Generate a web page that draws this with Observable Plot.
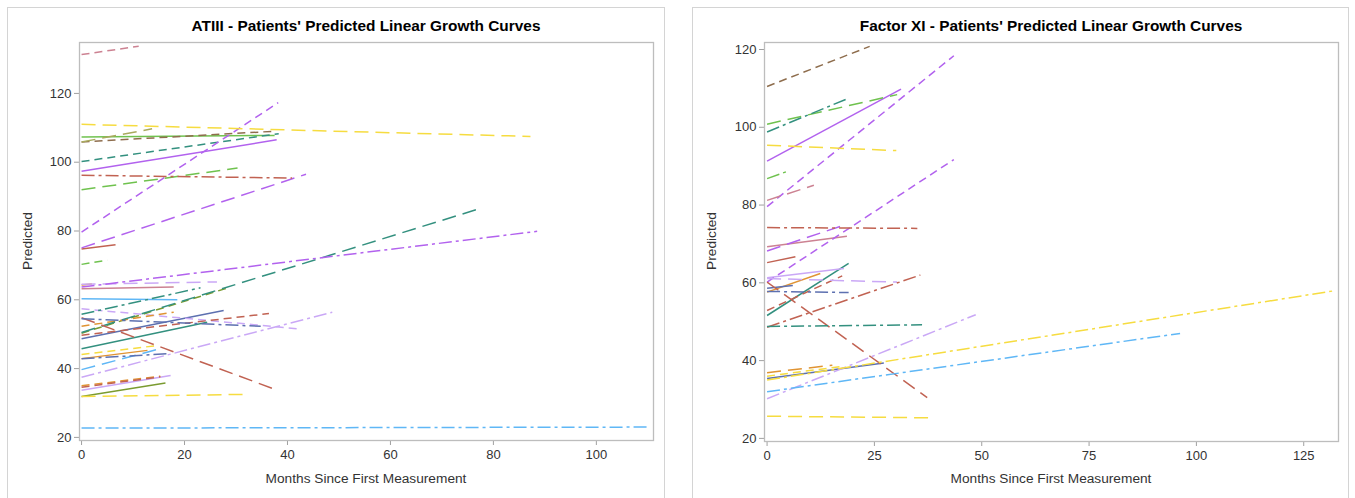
<!DOCTYPE html>
<html><head><meta charset="utf-8">
<script src="https://cdn.jsdelivr.net/npm/d3@7"></script>
<script src="https://cdn.jsdelivr.net/npm/@observablehq/plot@0.6"></script>
<style>
body{margin:0;background:#fff;font-family:"Liberation Sans",Arial,sans-serif;}
#page{position:relative;width:1355px;height:498px;overflow:hidden;}
.panel{position:absolute;top:7px;height:540px;border:1px solid #d4d4d4;box-sizing:border-box;}
.title{position:absolute;top:17px;font-weight:bold;font-size:15.4px;color:#000;white-space:nowrap;transform:translateX(-50%);}
.xlab{position:absolute;top:471px;font-size:13.7px;color:#333;transform:translateX(-50%);white-space:nowrap}
.ylab{position:absolute;font-size:13.7px;color:#333;transform:translate(-50%,-50%) rotate(-90deg);white-space:nowrap}
.chart{position:absolute;top:0}
</style></head>
<body><div id="page"></div>
<script>
// ---------- DATA: ATIII panel (each patient: line from month 0 to last month) ----------
const atiiiIds    = d3.range(1, 40).map(i => "A" + i);
const atiiiLastX  = [11.1, 87.2, 37.5, 13.7, 37.5, 38.3, 37.9, 40.9, 30.3, 38.2, 43.6, 6.6, 5.0, 88.5, 77.3, 28.9, 23.1, 26.3, 17.9, 2.0, 18.6, 41.9, 34.8, 37.7, 36.4, 17.9, 27.6, 24.4, 14.7, 12.8, 16.6, 15.3, 48.7, 15.3, 15.3, 17.3, 16.3, 31.8, 110.2];
const atiiiStartY = [131.3, 111.0, 107.3, 105.9, 105.9, 100.2, 97.4, 96.2, 92.0, 79.7, 75.1, 74.8, 70.3, 63.7, 50.5, 50.3, 55.8, 64.5, 63.2, 64.3, 60.3, 57.4, 54.5, 54.8, 49.7, 52.3, 48.7, 45.8, 44.1, 42.9, 42.9, 39.7, 37.5, 35.0, 34.6, 33.7, 31.9, 31.9, 22.7];
const atiiiEndY   = [133.7, 107.5, 107.8, 109.7, 109.0, 108.3, 106.5, 95.4, 98.3, 117.3, 96.5, 76.0, 71.5, 79.9, 86.5, 63.7, 63.5, 65.2, 63.7, 64.6, 60.0, 51.6, 52.3, 33.9, 56.0, 56.4, 56.9, 53.5, 46.7, 45.3, 44.3, 45.8, 56.4, 37.8, 37.6, 38.0, 35.8, 32.5, 23.0];

// ---------- DATA: Factor XI panel ----------
const fxiIds    = d3.range(1, 31).map(i => "F" + i);
const fxiLastX  = [23.9, 30.3, 18.4, 31.2, 43.5, 30.1, 4.8, 10.9, 43.5, 35.0, 18.6, 17.0, 6.6, 30.3, 12.4, 19.0, 19.0, 37.3, 35.7, 17.5, 36.1, 48.6, 131.8, 96.2, 15.2, 27.2, 37.7, 17.9, 6.0, 18.0];
const fxiStartY = [110.5, 100.8, 98.8, 91.3, 79.6, 95.4, 86.8, 81.2, 60.2, 74.2, 69.3, 68.2, 65.2, 61.1, 57.6, 57.8, 51.6, 60.2, 48.6, 52.9, 48.8, 30.2, 35.0, 32.0, 36.9, 35.4, 25.7, 61.3, 58.6, 36.0];
const fxiEndY   = [120.8, 108.4, 107.2, 109.8, 118.4, 94.0, 88.7, 85.1, 91.7, 74.0, 72.0, 74.5, 66.7, 60.2, 62.4, 57.5, 65.0, 30.5, 62.0, 61.8, 49.2, 51.8, 57.9, 47.0, 38.8, 39.4, 25.3, 63.7, 59.3, 38.6];

// ---------- STYLE: per-patient line colour / pattern keys ----------
const atiiiColorKey = ["pink","yellow","green","khaki","brown","teal","purple","redbrown","green","purple","purple","redbrown","green","purple","teal","olive","teal","lightpurple","pink","orange","lightblue","lightpurple","slate","redbrown","redbrown","orange","slate","teal","yellow","orange","slate","lightblue","lightpurple","orange","redbrown","lightpurple","olive","yellow","lightblue"];
const atiiiDashKey  = ["dash","long","solid","long","dash","dash","solid","dashdot","long","dash","long","solid","dash","dashdot","long","dash","dashdot","long","solid","solid","solid","dash","dashdot","long","dash","dash","solid","solid","dash","solid","dashdot","long","dashdot","dash","dash","solid","solid","long","dashdot"];
const fxiColorKey = ["brown","green","teal","purple","purple","yellow","green","pink","purple","redbrown","pink","purple","redbrown","lightpurple","orange","slate","teal","redbrown","redbrown","redbrown","teal","lightpurple","yellow","lightblue","orange","slate","yellow","lightpurple","slate","yellow"];
const fxiDashKey  = ["dash","long","dashdot","solid","dash","long","dashdot","long","dash","dashdot","solid","long","solid","long","solid","dashdot","solid","long","dashdot","dash","dashdot","dashdot","dashdot","dashdot","long","solid","long","solid","solid","dash"];

const palette = {
  purple:"#b262ee", lightpurple:"#caa8f6", green:"#6fc24e", olive:"#7a9b30", khaki:"#a9aa5e",
  teal:"#33907f", brown:"#8e6d4d", redbrown:"#c16252", pink:"#cc8292", orange:"#e09433",
  lightblue:"#5fb7f6", slate:"#5d70b0", yellow:"#f6dc40"
};
const dashes = {solid:null, dash:"8,5", long:"14,7", dashdot:"13,4,3,4"};

function rows(ids, lastX, startY, endY, colorKey, dashKey) {
  const out = [];
  ids.forEach((id, i) => {
    out.push({id, x: 0, y: startY[i], c: palette[colorKey[i]], k: dashKey[i]});
    out.push({id, x: lastX[i], y: endY[i], c: palette[colorKey[i]], k: dashKey[i]});
  });
  return out;
}

function panel({data, xDomain, yDomain, xTicks, yTicks, width, ml, mr, mt, mb}) {
  const lineMarks = Object.keys(dashes).map(k =>
    Plot.line(data.filter(d => d.k === k), {x:"x", y:"y", z:"id", stroke:"c", strokeWidth:1.5,
      strokeDasharray: dashes[k] || undefined, strokeLinecap:"butt"}));
  return Plot.plot({
    width, height: 498, marginLeft: ml, marginRight: mr, marginTop: mt, marginBottom: mb,
    style: {background:"transparent", fontSize:"13px", fontFamily:"'Liberation Sans', Arial, sans-serif", color:"#333"},
    x: {domain: xDomain}, y: {domain: yDomain},
    marks: [
      Plot.axisX({ticks: xTicks, tickSize: 5, tickPadding: 4, label: null, stroke:"#a0a0a0", fill:"#333"}),
      Plot.axisY({ticks: yTicks, tickSize: 5, tickPadding: 3, label: null, stroke:"#a0a0a0", fill:"#333"}),
      ...lineMarks,
      Plot.frame({stroke:"#bdbdbd", strokeWidth:1.3})
    ]
  });
}

const page = document.getElementById("page");
function add(html){ const d = document.createElement("div"); d.innerHTML = html; while (d.firstChild) page.appendChild(d.firstChild); }

add('<div class="panel" style="left:7px;width:658px"></div>');
add('<div class="panel" style="left:692px;width:657px"></div>');

const left = panel({
  data: rows(atiiiIds, atiiiLastX, atiiiStartY, atiiiEndY, atiiiColorKey, atiiiDashKey),
  xDomain: [-0.4, 111.1], yDomain: [19.1, 134.8],
  xTicks: [0, 20, 40, 60, 80, 100], yTicks: [20, 40, 60, 80, 100, 120],
  width: 665, ml: 79, mr: 12, mt: 42, mb: 58
});
left.classList.add("chart"); left.style.left = "0px"; page.appendChild(left);

const right = panel({
  data: rows(fxiIds, fxiLastX, fxiStartY, fxiEndY, fxiColorKey, fxiDashKey),
  xDomain: [-0.6, 133.1], yDomain: [19.2, 121.8],
  xTicks: [0, 25, 50, 75, 100, 125], yTicks: [20, 40, 60, 80, 100, 120],
  width: 670, ml: 84, mr: 12, mt: 42, mb: 57
});
right.classList.add("chart"); right.style.left = "680px"; page.appendChild(right);

add('<div class="title" style="left:366px">ATIII - Patients\' Predicted Linear Growth Curves</div>');
add('<div class="title" style="left:1051px">Factor XI - Patients\' Predicted Linear Growth Curves</div>');
add('<div class="xlab" style="left:366px">Months Since First Measurement</div>');
add('<div class="xlab" style="left:1051px">Months Since First Measurement</div>');
add('<div class="ylab" style="left:27px;top:241px">Predicted</div>');
add('<div class="ylab" style="left:711px;top:241px">Predicted</div>');
</script>
</body></html>
